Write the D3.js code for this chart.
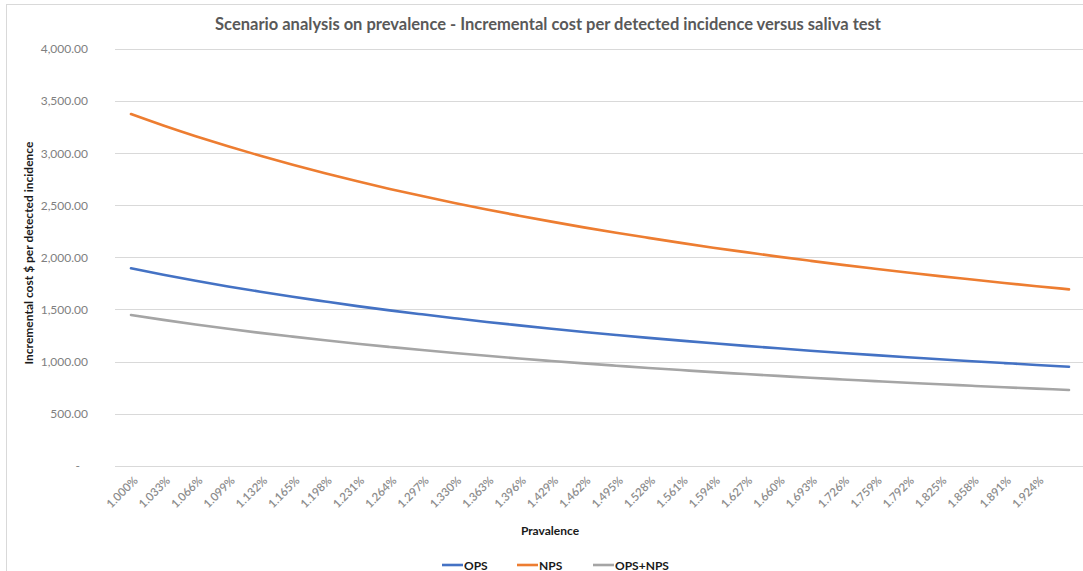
<!DOCTYPE html>
<html>
<head>
<meta charset="utf-8">
<script src="https://cdn.jsdelivr.net/npm/d3@7"></script>
<style>
  html, body { margin: 0; padding: 0; background: #fff; }
  svg { display: block; }
  text { font-family: Lato, "Open Sans", sans-serif; }
</style>
</head>
<body>
<svg id="chart" width="1083" height="571"></svg>
<script>
// Prevalence (%) at every third scenario step, plus the final step
const prevalence = [1.000, 1.033, 1.066, 1.099, 1.132, 1.165, 1.198, 1.231, 1.264, 1.297,
                    1.330, 1.363, 1.396, 1.429, 1.462, 1.495, 1.528, 1.561, 1.594, 1.627,
                    1.660, 1.693, 1.726, 1.759, 1.792, 1.825, 1.858, 1.891, 1.924, 1.957];

// Incremental cost ($) per detected incidence, versus saliva test
const ops = [1895, 1833, 1775, 1721, 1670, 1621, 1576, 1532, 1491, 1453,
             1416, 1380, 1347, 1315, 1284, 1255, 1227, 1201, 1175, 1150,
             1127, 1104, 1082, 1061, 1041, 1022, 1003, 985, 967, 950];
const nps = [3376, 3266, 3163, 3066, 2975, 2889, 2807, 2730, 2657, 2588,
             2522, 2459, 2400, 2343, 2288, 2236, 2187, 2139, 2093, 2050,
             2007, 1967, 1928, 1891, 1855, 1820, 1787, 1754, 1723, 1693];
const opsNps = [1447, 1400, 1356, 1314, 1275, 1239, 1204, 1171, 1140, 1110,
                1082, 1055, 1029, 1005, 982, 960, 938, 918, 898, 880,
                862, 844, 828, 812, 796, 782, 767, 753, 740, 727];

const seriesNames = ["OPS", "NPS", "OPS+NPS"];
const seriesColors = ["#4472C4", "#ED7D31", "#A5A5A5"];
const yTicks = [0, 500, 1000, 1500, 2000, 2500, 3000, 3500, 4000];
const xTickLabels = prevalence.slice(0, 29); // 1.000% … 1.924%

const title = "Scenario analysis on prevalence - Incremental cost per detected incidence versus saliva test";
const yTitle = "Incremental cost $ per detected incidence";
const xTitle = "Pravalence";

const svg = d3.select("#chart");

// chart frame
svg.append("rect").attr("x", 6.5).attr("y", 4.5).attr("width", 1090).attr("height", 600)
  .attr("fill", "#fff").attr("stroke", "#d9d9d9").attr("stroke-width", 1);

const x = d3.scaleLinear().domain([prevalence[0], prevalence[prevalence.length - 1]]).range([131, 1069]);
const y = d3.scaleLinear().domain([0, 4000]).range([465.7, 49]);

// horizontal gridlines
svg.append("g").selectAll("line").data(yTicks).join("line")
  .attr("x1", 115).attr("x2", 1083)
  .attr("y1", d => Math.round(y(d)) + 0.5).attr("y2", d => Math.round(y(d)) + 0.5)
  .attr("stroke", "#d9d9d9").attr("stroke-width", 1);

// y axis labels
const fmt = d3.format(",.2f");
const yAxis = d3.axisLeft(y).tickValues(yTicks).tickSize(0).tickPadding(0)
  .tickFormat(d => d === 0 ? "-" : fmt(d));
const gy = svg.append("g").attr("transform", "translate(88,0)").call(yAxis);
gy.select(".domain").remove();
gy.selectAll("text").attr("font-size", 12).attr("fill", "#7f7f7f")
  .attr("font-family", "Lato, sans-serif")
  .attr("dx", d => d === 0 ? -8 : 0);

// x axis labels, rotated
const xAxis = d3.axisBottom(x).tickValues(xTickLabels).tickSize(0).tickPadding(0)
  .tickFormat(d => d3.format(".3f")(d) + "%");
const gx = svg.append("g").attr("transform", "translate(0,477)").call(xAxis);
gx.select(".domain").remove();
gx.selectAll("text")
  .attr("font-size", 11.5).attr("font-weight", 600).attr("fill", "#8c8c8c")
  .attr("font-family", "Lato, sans-serif")
  .attr("text-anchor", "end").attr("dy", "0.7em").attr("dx", 2)
  .attr("transform", "rotate(-45)");

// lines
const line = d3.line().x((d, i) => x(prevalence[i])).y(d => y(d)).curve(d3.curveMonotoneX);
[ops, nps, opsNps].forEach((vals, k) => {
  svg.append("path").datum(vals)
    .attr("d", line)
    .attr("fill", "none")
    .attr("stroke", seriesColors[k])
    .attr("stroke-width", 2.6)
    .attr("stroke-linecap", "round");
});

// title
svg.append("text").attr("x", 548).attr("y", 30).attr("text-anchor", "middle")
  .attr("font-size", 16.5).attr("font-weight", "bold").attr("fill", "#595959")
  .text(title);

// y axis title
svg.append("text").attr("transform", "translate(33,253) rotate(-90)")
  .attr("text-anchor", "middle").attr("font-size", 12).attr("font-weight", "bold")
  .attr("fill", "#1a1a1a").text(yTitle);

// x axis title
svg.append("text").attr("x", 550).attr("y", 535).attr("text-anchor", "middle")
  .attr("font-size", 12).attr("font-weight", "bold").attr("fill", "#1a1a1a").text(xTitle);

// legend
const legendX = [442, 517, 593];
const lg = svg.append("g").selectAll("g").data(seriesNames).join("g")
  .attr("transform", (d, i) => `translate(${legendX[i]},565)`);
lg.append("line").attr("x1", 0).attr("x2", 21).attr("y1", 0).attr("y2", 0)
  .attr("stroke", (d, i) => seriesColors[i]).attr("stroke-width", 2.6);
lg.append("text").attr("x", 22).attr("y", 4.5).attr("font-size", 12).attr("font-weight", "bold")
  .attr("fill", "#1a1a1a").text(d => d);
</script>
</body>
</html>
